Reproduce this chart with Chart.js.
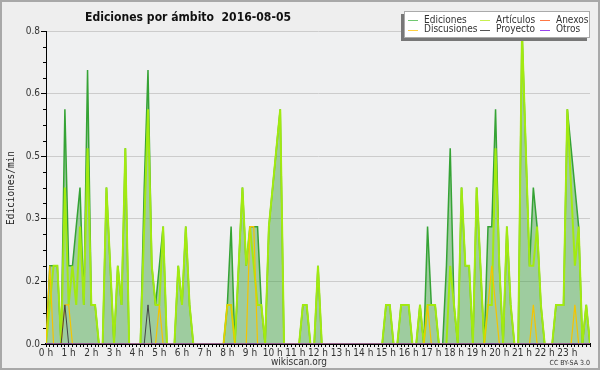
<!DOCTYPE html>
<html>
<head>
<meta charset="utf-8">
<script src="https://cdn.jsdelivr.net/npm/chart.js@4/dist/chart.umd.min.js"></script>
<style>
  html, body { margin: 0; padding: 0; background: #eeeeee; }
  canvas { display: block; }
</style>
</head>
<body>
<canvas id="chart" width="600" height="370"></canvas>
<script>
// Datos: ediciones por minuto, intervalos de 10 minutos (0:00 a 24:00)
const hourLabels = ['0 h', '1 h', '2 h', '3 h', '4 h', '5 h', '6 h', '7 h', '8 h', '9 h', '10 h', '11 h',
                    '12 h', '13 h', '14 h', '15 h', '16 h', '17 h', '18 h', '19 h', '20 h', '21 h', '22 h', '23 h'];

const ediciones = [
    0, 0.2, 0.2, 0.2, 0, 0.6,       // 0 h
    0.2, 0.2, 0.3, 0.4, 0.1, 0.7,   // 1 h
    0.1, 0.1, 0, 0, 0.4, 0.2,       // 2 h
    0, 0.2, 0.1, 0.5, 0, 0,         // 3 h
    0, 0, 0.4, 0.7, 0.2, 0.1,       // 4 h
    0.2, 0.3, 0, 0, 0, 0.2,         // 5 h
    0.1, 0.3, 0.1, 0, 0, 0,         // 6 h
    0, 0, 0, 0, 0, 0,               // 7 h
    0.1, 0.3, 0, 0.2, 0.4, 0.2,     // 8 h
    0.3, 0.3, 0.3, 0.1, 0, 0.3,     // 9 h
    0.4, 0.5, 0.6, 0, 0, 0,         // 10 h
    0, 0, 0.1, 0.1, 0, 0,           // 11 h
    0.2, 0, 0, 0, 0, 0,             // 12 h
    0, 0, 0, 0, 0, 0,               // 13 h
    0, 0, 0, 0, 0, 0,               // 14 h
    0.1, 0.1, 0, 0, 0.1, 0.1,       // 15 h
    0.1, 0, 0, 0.1, 0, 0.3,         // 16 h
    0.1, 0.1, 0, 0, 0.2, 0.5,       // 17 h
    0.1, 0, 0.4, 0.2, 0.2, 0,       // 18 h
    0.4, 0.2, 0, 0.3, 0.3, 0.6,     // 19 h
    0.2, 0, 0.3, 0.1, 0, 0,         // 20 h
    0.8, 0.5, 0.2, 0.4, 0.3, 0.1,   // 21 h
    0, 0, 0, 0.1, 0.1, 0.1,         // 22 h
    0.6, 0.5, 0.4, 0.3, 0, 0.1,     // 23 h
    0
];

const articulos = [
    0, 0.1, 0.2, 0.2, 0, 0.4,
    0.1, 0.2, 0.1, 0.3, 0.1, 0.5,
    0.1, 0.1, 0, 0, 0.4, 0.2,
    0, 0.2, 0.1, 0.5, 0, 0,
    0, 0, 0.3, 0.6, 0.2, 0.1,
    0.1, 0.3, 0, 0, 0, 0.2,
    0.1, 0.3, 0.1, 0, 0, 0,
    0, 0, 0, 0, 0, 0,
    0.1, 0.1, 0, 0.2, 0.4, 0.2,
    0.3, 0.2, 0.1, 0.1, 0, 0.3,
    0.4, 0.5, 0.6, 0, 0, 0,
    0, 0, 0.1, 0.1, 0, 0,
    0.2, 0, 0, 0, 0, 0,
    0, 0, 0, 0, 0, 0,
    0, 0, 0, 0, 0, 0,
    0.1, 0.1, 0, 0, 0.1, 0.1,
    0.1, 0, 0, 0.1, 0, 0.1,
    0.1, 0.1, 0, 0, 0, 0.2,
    0.1, 0, 0.4, 0.2, 0.2, 0,
    0.4, 0.2, 0, 0.1, 0.1, 0.5,
    0.2, 0, 0.3, 0.1, 0, 0,
    0.8, 0.5, 0.2, 0.2, 0.3, 0.1,
    0, 0, 0, 0.1, 0.1, 0.1,
    0.6, 0.4, 0.2, 0.3, 0, 0.1,
    0
];

const discusiones = [
    0, 0.2, 0, 0, 0, 0.1,
    0.1, 0, 0, 0, 0, 0,
    0, 0, 0, 0, 0, 0,
    0, 0, 0, 0, 0, 0,
    0, 0, 0, 0, 0, 0,
    0.1, 0, 0, 0, 0, 0,
    0, 0, 0, 0, 0, 0,
    0, 0, 0, 0, 0, 0,
    0.1, 0.1, 0, 0, 0, 0,
    0.3, 0.3, 0, 0, 0, 0,
    0, 0, 0, 0, 0, 0,
    0, 0, 0, 0, 0, 0,
    0, 0, 0, 0, 0, 0,
    0, 0, 0, 0, 0, 0,
    0, 0, 0, 0, 0, 0,
    0, 0, 0, 0, 0, 0,
    0, 0, 0, 0, 0, 0.1,
    0, 0, 0, 0, 0, 0,
    0, 0, 0, 0, 0, 0,
    0, 0, 0, 0.1, 0.2, 0.1,
    0, 0, 0, 0, 0, 0,
    0, 0, 0, 0.1, 0, 0,
    0, 0, 0, 0, 0, 0,
    0, 0, 0.1, 0, 0, 0,
    0
];

const proyecto = [
    0, 0, 0, 0, 0, 0.1,
    0, 0, 0, 0, 0, 0,
    0, 0, 0, 0, 0, 0,
    0, 0, 0, 0, 0, 0,
    0, 0, 0, 0.1, 0, 0,
    0, 0, 0, 0, 0, 0,
    0, 0, 0, 0, 0, 0,
    0, 0, 0, 0, 0, 0,
    0, 0, 0, 0, 0, 0,
    0, 0, 0, 0, 0, 0,
    0, 0, 0, 0, 0, 0,
    0, 0, 0, 0, 0, 0,
    0, 0, 0, 0, 0, 0,
    0, 0, 0, 0, 0, 0,
    0, 0, 0, 0, 0, 0,
    0, 0, 0, 0, 0, 0,
    0, 0, 0, 0, 0, 0,
    0, 0, 0, 0, 0, 0,
    0, 0, 0, 0, 0, 0,
    0, 0, 0, 0, 0, 0,
    0, 0, 0, 0, 0, 0,
    0, 0, 0, 0, 0, 0,
    0, 0, 0, 0, 0, 0,
    0, 0, 0, 0, 0, 0,
    0
];

// Anexos y Otros: sin ediciones este día
const anexos = new Array(ediciones.length).fill(0);
const otros = new Array(ediciones.length).fill(0);

const FONT = '"DejaVu Sans Condensed", "Liberation Sans", "DejaVu Sans", sans-serif';

function toPoints(values) {
    return values.map((v, i) => ({ x: i, y: v }));
}

function isMajor(v) {
    return Math.round(v * 100) % 16 === 0;
}

// texto ajustado a un ancho dado
function fitText(ctx, text, x, y, width) {
    const w = ctx.measureText(text).width;
    ctx.save();
    ctx.translate(x, y);
    ctx.scale(width / w, 1);
    ctx.fillText(text, 0, 0);
    ctx.restore();
}

const decoracion = {
    id: 'decoracion',
    beforeDraw(chart) {
        const ctx = chart.ctx;
        const a = chart.chartArea;
        ctx.save();
        ctx.fillStyle = '#eeeeee';
        ctx.fillRect(0, 0, chart.width, chart.height);
        ctx.fillStyle = '#eff0f1';
        ctx.fillRect(a.left, a.top, a.right - a.left, a.bottom - a.top);
        ctx.restore();
    },
    afterDraw(chart) {
        const ctx = chart.ctx;
        ctx.save();

        // marcas menores del eje y
        const ys = chart.scales.y;
        ctx.strokeStyle = '#000';
        ctx.lineWidth = 1;
        ys.ticks.forEach(t => {
            if (isMajor(t.value)) return;
            const py = Math.round(ys.getPixelForValue(t.value)) + 0.5;
            ctx.beginPath();
            ctx.moveTo(ys.right - 3, py);
            ctx.lineTo(ys.right, py);
            ctx.stroke();
        });

        // marco exterior
        ctx.strokeStyle = '#a8a8a8';
        ctx.lineWidth = 2;
        ctx.strokeRect(1, 1, chart.width - 2, chart.height - 2);

        // título
        ctx.fillStyle = '#111';
        ctx.font = 'bold 13px ' + FONT;
        ctx.textBaseline = 'alphabetic';
        ctx.textAlign = 'left';
        fitText(ctx, 'Ediciones por ámbito  2016-08-05', 85, 21, 206);

        // título eje y
        ctx.save();
        ctx.translate(14, 188);
        ctx.rotate(-Math.PI / 2);
        ctx.font = '11px "DejaVu Sans Mono", monospace';
        ctx.fillStyle = '#222';
        ctx.textAlign = 'left';
        fitText(ctx, 'Ediciones/min', -37, 0, 74);
        ctx.restore();

        // pie
        ctx.fillStyle = '#333';
        ctx.font = '10px ' + FONT;
        ctx.textAlign = 'center';
        ctx.textBaseline = 'middle';
        ctx.fillText('wikiscan.org', 299, 362);
        ctx.font = '7px ' + FONT;
        ctx.textAlign = 'right';
        ctx.fillText('CC BY-SA 3.0', 590, 363);

        // leyenda
        const bx = 404, by = 11, bw = 186, bh = 27;
        ctx.fillStyle = '#777777';
        ctx.fillRect(bx - 3, by + 3, bw, bh);
        ctx.fillStyle = '#ffffff';
        ctx.fillRect(bx, by, bw, bh);
        ctx.strokeStyle = '#aaaaaa';
        ctx.lineWidth = 1;
        ctx.strokeRect(bx + 0.5, by + 0.5, bw - 1, bh - 1);

        const cols = [408, 480, 540];
        const rows = [20, 29.5];
        const ds = chart.data.datasets;
        ctx.font = '10px ' + FONT;
        ctx.textAlign = 'left';
        ctx.textBaseline = 'middle';
        ds.forEach((d, i) => {
            const cx = cols[i % 3];
            const cy = rows[Math.floor(i / 3)];
            ctx.strokeStyle = d.legendColor;
            ctx.lineWidth = 1;
            ctx.beginPath();
            ctx.moveTo(cx, Math.round(cy) + 0.5);
            ctx.lineTo(cx + 10, Math.round(cy) + 0.5);
            ctx.stroke();
            ctx.fillStyle = '#333';
            ctx.fillText(d.label, cx + 16, cy);
        });
        ctx.restore();
    }
};

const ctx = document.getElementById('chart').getContext('2d');
window.myChart = new Chart(ctx, {
    type: 'line',
    data: {
        datasets: [
            { label: 'Ediciones', data: toPoints(ediciones), borderColor: '#35a335', borderWidth: 1.5,
              fill: 'origin', backgroundColor: 'rgba(60,160,60,0.45)', legendColor: '#70c870', order: 6 },
            { label: 'Artículos', data: toPoints(articulos), borderColor: '#a2ea10', borderWidth: 2,
              fill: false, legendColor: '#c8f050', order: 5 },
            { label: 'Anexos', data: toPoints(anexos), borderColor: '#ff7744', borderWidth: 1,
              fill: false, legendColor: '#ff7744', order: 4 },
            { label: 'Discusiones', data: toPoints(discusiones), borderColor: '#f5c400', borderWidth: 1.2,
              fill: false, legendColor: '#ffd040', order: 3 },
            { label: 'Proyecto', data: toPoints(proyecto), borderColor: '#444444', borderWidth: 1,
              fill: false, legendColor: '#555555', order: 2 },
            { label: 'Otros', data: toPoints(otros), borderColor: '#9944ee', borderWidth: 1,
              fill: false, legendColor: '#9944ee', order: 1 }
        ]
    },
    options: {
        responsive: false,
        animation: false,
        devicePixelRatio: 1,
        layout: { padding: { top: 31, right: 10, left: 0, bottom: 0 } },
        elements: { point: { radius: 0 }, line: { tension: 0 } },
        plugins: {
            legend: { display: false },
            title: { display: false },
            tooltip: { enabled: false }
        },
        scales: {
            x: {
                type: 'linear',
                min: 0,
                max: 144,
                z: 1,
                ticks: {
                    stepSize: 1,
                    autoSkip: false,
                    maxRotation: 0,
                    minRotation: 0,
                    padding: 0,
                    color: '#333',
                    font: { size: 10, family: FONT },
                    callback: (v) => (v % 6 === 0 && v / 6 < hourLabels.length) ? hourLabels[v / 6] : ''
                },
                grid: { drawOnChartArea: false, tickLength: 3, tickColor: '#000', tickWidth: 1 },
                border: { color: '#000', width: 2 },
                afterFit: (s) => { s.height = 26; }
            },
            y: {
                min: 0,
                max: 0.8,
                ticks: {
                    stepSize: 0.04,
                    autoSkip: false,
                    padding: 1,
                    color: '#333',
                    font: { size: 10, family: FONT },
                    callback: (v) => isMajor(v) ? v.toFixed(1) : ''
                },
                grid: {
                    color: (c) => (c.tick && isMajor(c.tick.value)) ? '#cccccc' : 'rgba(0,0,0,0)',
                    tickColor: (c) => (c.tick && isMajor(c.tick.value)) ? '#000' : 'rgba(0,0,0,0)',
                    tickLength: 5,
                    lineWidth: 1
                },
                border: { color: '#000', width: 1 },
                afterFit: (s) => { s.width = 46; }
            }
        }
    },
    plugins: [decoracion]
});
</script>
</body>
</html>
